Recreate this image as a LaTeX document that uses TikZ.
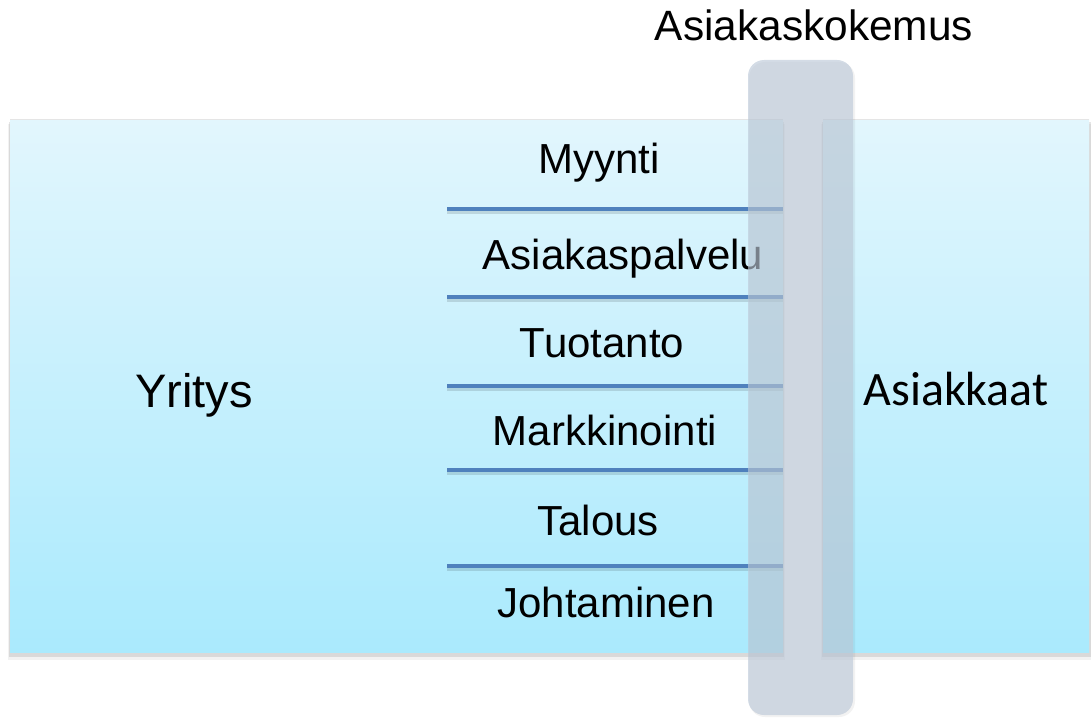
\documentclass[tikz,border=0pt]{standalone}
\usepackage{fontspec}
\setmainfont{Liberation Sans}
\newfontfamily\calfont{Carlito}
\definecolor{rtop}{HTML}{E2F6FD}
\definecolor{rbot}{HTML}{AAEAFD}
\definecolor{sepblue}{HTML}{4F81BD}
\definecolor{barcol}{RGB}{188,201,216}
\tikzset{
  panel/.style={top color=rtop, bottom color=rbot, draw=none},
  pshadow/.style={fill=black, opacity=0.10, draw=none},
  sep/.style={draw=sepblue, line width=2pt},
  sepshadow/.style={draw=black, opacity=0.12, line width=2pt},
  lbl/.style={font=\fontsize{21}{25}\selectfont, anchor=base, inner sep=0pt},
  bar/.style={fill=barcol, fill opacity=0.64, draw=none, rounded corners=8pt}
}
\begin{document}
\begin{tikzpicture}[x=0.5pt,y=-0.5pt]
\useasboundingbox (0,0) rectangle (1091,717);
% shadows of panels
\fill[pshadow] (9,122) rectangle (784,657);
\fill[pshadow,opacity=0.05] (8,124) rectangle (785,660);
\fill[pshadow] (822,122) rectangle (1091,657);
\fill[pshadow,opacity=0.05] (821,124) rectangle (1091,660);
% panels
\path[panel] (10,120) rectangle (783,652);
\path[panel] (823,120) rectangle (1089,652);
\draw[black!10, line width=0.5pt] (10,120) -- (783,120);
\draw[black!10, line width=0.5pt] (823,120) -- (1089,120);
% separators
\foreach \yy in {209,297,386,470,566} {
  \draw[sepshadow] (447,\yy+3) -- (783,\yy+3);
  \draw[sep] (447,\yy) -- (783,\yy);
}
% labels
\node[lbl] (myynti) at (599,173) {Myynti};
\node[lbl] (asp) at (623,269) {Asiakaspalvelu};
\node[lbl] (tuot) at (602,357) {Tuotanto};
\node[lbl] (mark) at (605,445) {Markkinointi};
\node[lbl] (tal) at (598,535) {Talous};
\node[lbl] (joht) at (606,617) {Johtaminen};
\node[lbl, font=\fontsize{23.5}{28}\selectfont] (yritys) at (194,407) {Yritys};
\node[lbl, font=\calfont\fontsize{24}{28}\selectfont] (asiakkaat) at (956,405) {Asiakkaat};
\node[lbl, font=\fontsize{21.2}{25}\selectfont] (kokemus) at (814,41) {Asiakaskokemus};
% vertical bar
\fill[black, opacity=0.05, rounded corners=8pt] (749,62) rectangle (855,717);
\path[bar] (748,60) rectangle (853,715);
\end{tikzpicture}
\end{document}
